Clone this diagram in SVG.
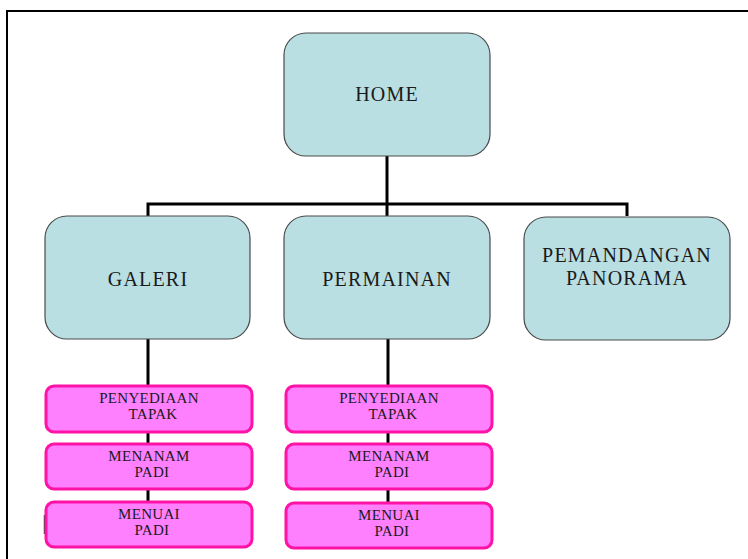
<svg xmlns="http://www.w3.org/2000/svg" width="748" height="559" viewBox="0 0 748 559">
<style>
.main{fill:#b9dfe3;stroke:#4a4a4a;stroke-width:1.2}
.sub{fill:#ff80ff;stroke:#ff12a6;stroke-width:3}
.t1{font-family:"Liberation Serif","Times New Roman",serif;font-size:20px;letter-spacing:1.2px;fill:#1a1a1a;text-anchor:middle}
.t2{font-family:"Liberation Serif","Times New Roman",serif;font-size:15px;letter-spacing:0.3px;fill:#1a1a1a;text-anchor:middle}
.con{fill:none;stroke:#000;stroke-width:3}
</style>
<rect width="748" height="559" fill="#fff"/>
<path d="M7,559 V11 H748" fill="none" stroke="#000" stroke-width="2"/>
<line x1="44.5" y1="515" x2="44.5" y2="534" stroke="#1d5a2c" stroke-width="1.5"/>
<g id="connectors">
<path class="con" d="M387,156 V204"/>
<path class="con" d="M148,216 V204 H627 V216"/>
<path class="con" d="M387,204 V216"/>
<path class="con" d="M148,339 V386 M148,432 V444 M148,489 V502"/>
<path class="con" d="M388,339 V386 M388,432 V444 M388,489 V502"/>
</g>
<g id="home"><rect class="main" x="284" y="33" width="206" height="123" rx="22"/><text class="t1" x="387" y="101">HOME</text></g>
<g id="galeri"><rect class="main" x="45" y="216" width="205" height="123" rx="22"/><text class="t1" x="148" y="286">GALERI</text></g>
<g id="permainan"><rect class="main" x="284" y="216" width="206" height="123" rx="22"/><text class="t1" x="387" y="286">PERMAINAN</text></g>
<g id="pemandangan"><rect class="main" x="524" y="217" width="206" height="123" rx="22"/><text class="t1" x="627" y="262">PEMANDANGAN</text><text class="t1" x="627" y="285">PANORAMA</text></g>
<g id="g-penyediaan"><rect class="sub" x="46" y="386" width="206" height="46" rx="8"/><text class="t2" x="149" y="403">PENYEDIAAN</text><text class="t2" x="153" y="419">TAPAK</text></g>
<g id="g-menanam"><rect class="sub" x="46" y="444" width="206" height="45" rx="8"/><text class="t2" x="149" y="461">MENANAM</text><text class="t2" x="152" y="477">PADI</text></g>
<g id="g-menuai"><rect class="sub" x="46" y="502" width="206" height="45" rx="8"/><text class="t2" x="149" y="519">MENUAI</text><text class="t2" x="152" y="535">PADI</text></g>
<g id="p-penyediaan"><rect class="sub" x="286" y="386" width="206" height="46" rx="8"/><text class="t2" x="389" y="403">PENYEDIAAN</text><text class="t2" x="393" y="419">TAPAK</text></g>
<g id="p-menanam"><rect class="sub" x="286" y="444" width="206" height="45" rx="8"/><text class="t2" x="389" y="461">MENANAM</text><text class="t2" x="392" y="477">PADI</text></g>
<g id="p-menuai"><rect class="sub" x="286" y="503" width="206" height="45" rx="8"/><text class="t2" x="389" y="520">MENUAI</text><text class="t2" x="392" y="536">PADI</text></g>
</svg>
